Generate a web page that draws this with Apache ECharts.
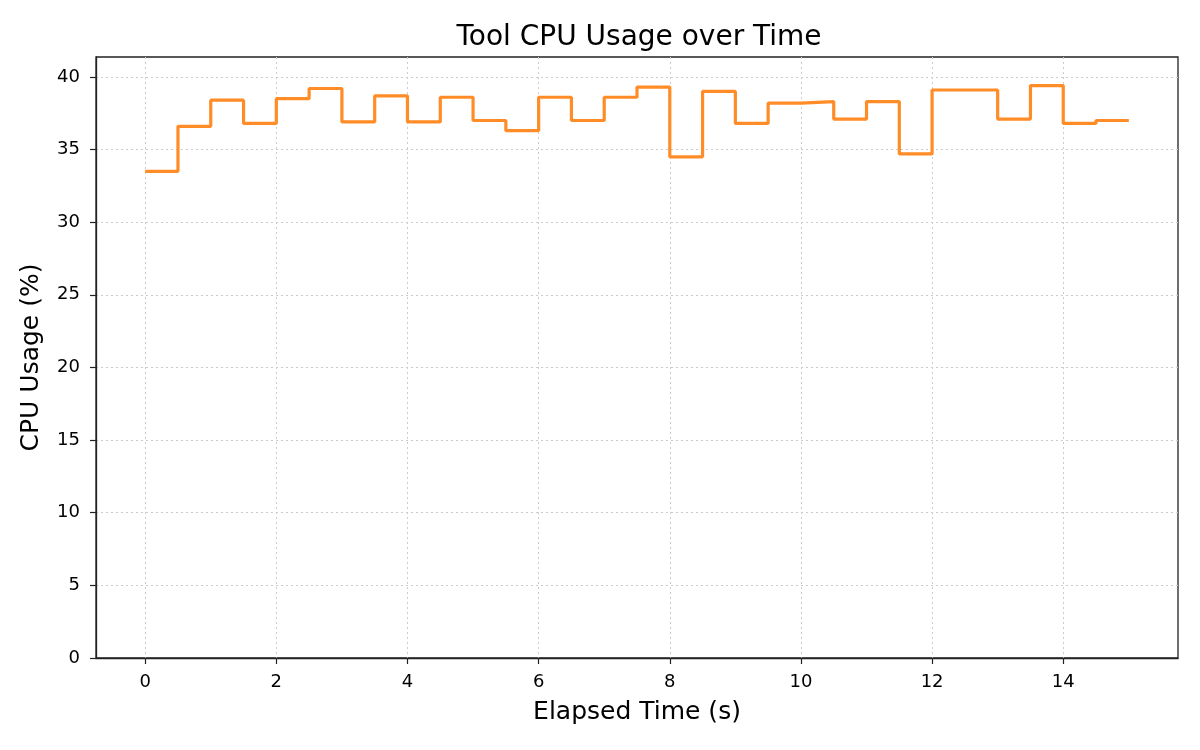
<!DOCTYPE html>
<html>
<head>
<meta charset="utf-8">
<title>Tool CPU Usage over Time</title>
<script src="https://cdn.jsdelivr.net/npm/echarts@6/dist/echarts.min.js"></script>
<style>
	html, body { margin: 0; padding: 0; background: #fff; }
	#chart { width: 1200px; height: 750px; }
</style>
</head>
<body>
<div id="chart"></div>
<script>
// elapsed time (s), one sample every half second
var elapsed_time = [0, 0.5, 1, 1.5, 2, 2.5, 3, 3.5, 4, 4.5, 5, 5.5, 6, 6.5, 7, 7.5,
	8, 8.5, 9, 9.5, 10, 10.5, 11, 11.5, 12, 12.5, 13, 13.5, 14, 14.5, 15];
// tool cpu usage (%)
var cpu_usage = [33.5, 36.6, 38.4, 36.8, 38.5, 39.2, 36.9, 38.7, 36.9, 38.6, 37.0, 36.3, 38.6, 37.0, 38.6, 39.3,
	34.5, 39.0, 36.8, 38.2, 38.3, 37.1, 38.3, 34.7, 39.1, 39.1, 37.1, 39.4, 36.8, 37.0, 37.0];
var x_ticks = [0, 2, 4, 6, 8, 10, 12, 14];
var y_ticks = [0, 5, 10, 15, 20, 25, 30, 35, 40];

window.onload = function(){
	var font = 'DejaVu Sans';
	var points = [];
	for (var i = 0; i < elapsed_time.length; i++) {
		points.push([elapsed_time[i], cpu_usage[i]]);
	}
	var grid_line = {
		show: true,
		lineStyle: { color: '#cccccc', width: 1, type: [2, 3] }
	};
	var my_chart = echarts.init(document.getElementById('chart'), null, { renderer: 'canvas' });
	my_chart.setOption({
		animation: false,
		backgroundColor: '#ffffff',
		title: {
			text: 'Tool CPU Usage over Time',
			left: 634,
			textAlign: 'center',
			top: 19,
			textStyle: { fontFamily: font, fontSize: 28, fontWeight: 'normal', color: '#000' }
		},
		grid: {
			left: 96,
			right: 22,
			top: 57,
			bottom: 92,
			show: true,
			borderColor: '#222',
			borderWidth: 1.3,
			backgroundColor: 'transparent'
		},
		xAxis: {
			type: 'value',
			min: -0.75,
			max: 15.75,
			name: 'Elapsed Time (s)',
			nameLocation: 'middle',
			nameGap: 42,
			nameTextStyle: { fontFamily: font, fontSize: 25, color: '#000' },
			axisLine: { show: true, onZero: false, lineStyle: { color: '#222', width: 1.3 } },
			axisTick: { show: true, length: 6, customValues: x_ticks, lineStyle: { color: '#222', width: 1.2 } },
			axisLabel: { customValues: x_ticks, margin: 15, fontFamily: font, fontSize: 18, color: '#000' },
			splitLine: grid_line
		},
		yAxis: {
			type: 'value',
			min: 0,
			max: 41.37,
			name: 'CPU Usage (%)',
			nameLocation: 'middle',
			nameGap: 52,
			nameTextStyle: { fontFamily: font, fontSize: 25, color: '#000' },
			axisLine: { show: true, onZero: false, lineStyle: { color: '#222', width: 1.3 } },
			axisTick: { show: true, length: 6, customValues: y_ticks, lineStyle: { color: '#222', width: 1.2 } },
			axisLabel: { customValues: y_ticks, margin: 16, fontFamily: font, fontSize: 18, color: '#000' },
			splitLine: grid_line
		},
		series: [{
			name: 'CPU Usage',
			type: 'line',
			step: 'end',
			showSymbol: false,
			symbol: 'none',
			data: points,
			lineStyle: { color: '#ff8c26', width: 3.2 },
			itemStyle: { color: '#ff8c26' }
		}]
	});
}
</script>
</body>
</html>
